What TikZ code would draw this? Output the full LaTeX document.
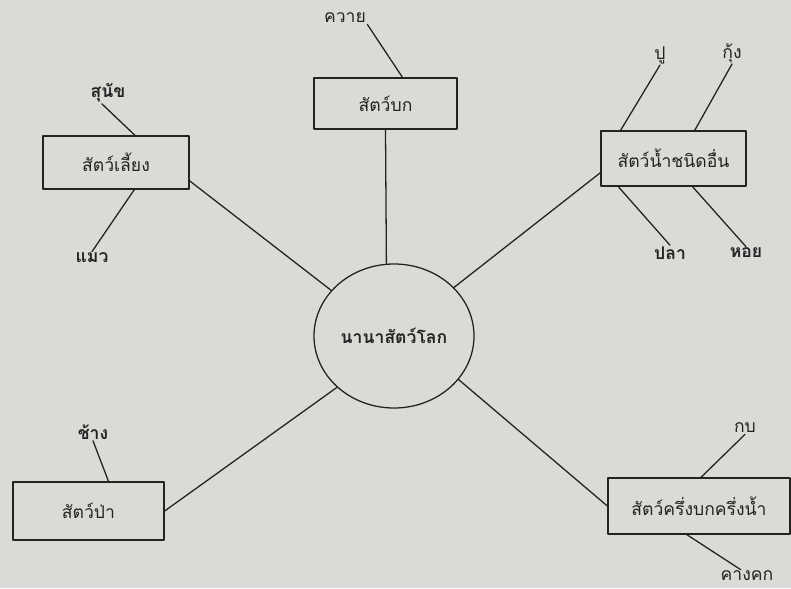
\documentclass[tikz,border=0pt]{standalone}
\usepackage{fontspec}
\usetikzlibrary{shapes.geometric}
\newfontfamily\thaifont[Script=Thai]{Loma}
\definecolor{paper}{RGB}{218,218,215}
\definecolor{ink}{RGB}{35,35,35}
\begin{document}
\begin{tikzpicture}[x=0.03cm,y=-0.03cm, line join=round, line cap=round,
  font=\thaifont\fontsize{15}{17}\selectfont, text=ink, draw=ink,
  box/.style={draw=ink, line width=1.1pt, inner sep=0pt},
  leaf/.style={inner sep=1pt},
  wire/.style={ink, line width=1.1pt}]
 \fill[paper] (0,0) rectangle (791,588);
 \useasboundingbox (0,0) rectangle (791,588);
 % ศูนย์กลาง
 \node[box, ellipse, minimum width=4.8cm, minimum height=4.32cm] (hub) at (394,336) {\bfseries นานาสัตว์โลก};
 % กล่องหมวด
 \node[box, minimum width=4.29cm, minimum height=1.53cm] (land)  at (385.5,103.5) {สัตว์บก};
 \node[box, minimum width=4.38cm, minimum height=1.59cm] (pet)   at (116,162.5) {สัตว์เลี้ยง};
 \node[box, minimum width=4.35cm, minimum height=1.65cm] (water) at (673.5,158.5) {สัตว์น้ำชนิดอื่น};
 \node[box, minimum width=4.53cm, minimum height=1.74cm] (wild)  at (88.5,511) {สัตว์ป่า};
 \node[box, minimum width=5.46cm, minimum height=1.68cm] (amphi) at (699,506) {สัตว์ครึ่งบกครึ่งน้ำ};
 % ชื่อสัตว์
 \foreach \n/\t/\p in {buffalo/ควาย/{(345,18)}, dog/\bfseries สุนัข/{(108,93)},
   cat/\bfseries แมว/{(92,258)}, crab/ปู/{(660,55)}, shrimp/กุ้ง/{(732,53)},
   fish/\bfseries ปลา/{(670,253)}, shell/\bfseries หอย/{(746,253)},
   elephant/\bfseries ช้าง/{(93,432)}, frog/กบ/{(745,428)}, toad/คางคก/{(747,576)}}
 \node[leaf] (\n) at \p {\t};
 % เส้นเชื่อม
 \foreach \a/\b in {land.south/hub.96, pet.-14/hub.144, water.-169/hub.39,
   wild.east/hub.222, amphi.west/hub.-34}
 \draw[wire] (\a)--(\b);
 \foreach \a/\b in {buffalo.south east/land.57, dog.240/pet.55, cat.north/pet.-56,
   crab.south/water.152, shrimp.south/water.53, fish.north/water.207,
   shell.north/water.-56, elephant.south/wild.56, frog.south/amphi.86,
   toad.135/amphi.-113}
 \draw[wire] (\a)--(\b);
\end{tikzpicture}
\end{document}
